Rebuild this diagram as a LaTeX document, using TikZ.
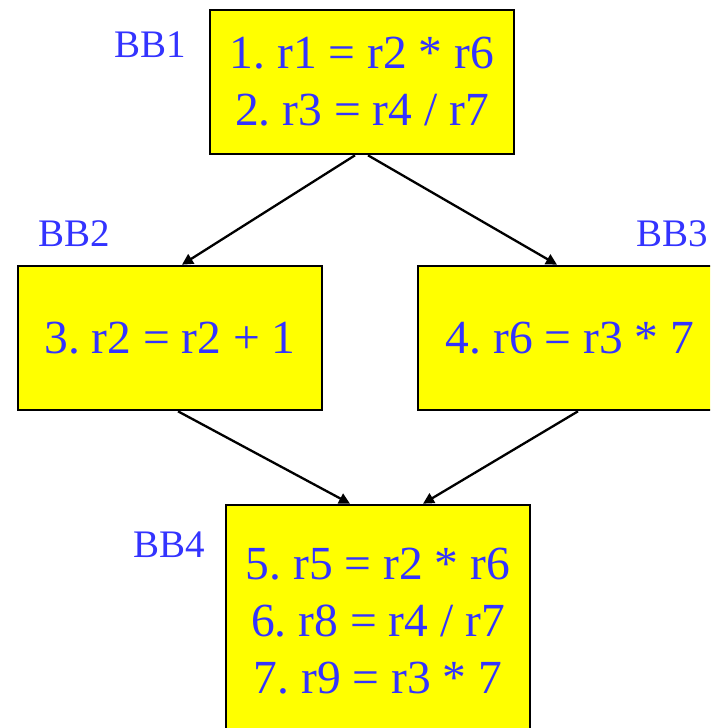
\documentclass[tikz,border=0pt]{standalone}
\usepackage{fontspec}
\setmainfont{Liberation Serif}
\usepackage{xcolor}
\usepackage{tikz}
\usetikzlibrary{arrows.meta}
\definecolor{bbblue}{RGB}{51,51,255}
\definecolor{bbyellow}{RGB}{255,255,0}
\frenchspacing
\begin{document}
\begin{tikzpicture}[x=1pt,y=-1pt,
  blk/.style={draw=black,line width=2.6pt,fill=bbyellow,text=bbblue,align=center,inner sep=0pt,
    minimum width=304pt,font=\fontsize{47.5}{57}\selectfont},
  lbl/.style={anchor=base west,inner sep=0pt,text=bbblue,font=\fontsize{39}{44}\selectfont},
  ar/.style={-{Triangle[length=11pt,width=11pt]},line width=2.3pt}]
\useasboundingbox (0,0) rectangle (710,728);
\clip (0,0) rectangle (710,728);
% basic blocks
\node[blk,minimum height=144pt] (bb1) at (362,82) {1. r1 = r2 * r6\\2. r3 = r4 / r7};
\node[blk,minimum height=144pt] (bb2) at (170,338) {3. r2 = r2 + 1};
\node[blk,minimum height=144pt] (bb3) at (570,338) {4. r6 = r3 * 7};
\node[blk,minimum height=232pt] (bb4) at (378,621) {5. r5 = r2 * r6\\6. r8 = r4 / r7\\7. r9 = r3 * 7};
% block names
\node[lbl] (n1) at (114,57) {BB1};
\node[lbl] (n2) at (38,246) {BB2};
\node[lbl] (n3) at (636,246) {BB3};
\node[lbl] (n4) at (133,557) {BB4};
% control flow
\draw[ar] ([xshift=-7pt]bb1.south) -- ([xshift=12pt]bb2.north);
\draw[ar] ([xshift=6pt]bb1.south) -- ([xshift=-13pt]bb3.north);
\draw[ar] ([xshift=8pt]bb2.south) -- ([xshift=-28pt]bb4.north);
\draw[ar] ([xshift=8pt]bb3.south) -- ([xshift=45pt]bb4.north);
\end{tikzpicture}
\end{document}
